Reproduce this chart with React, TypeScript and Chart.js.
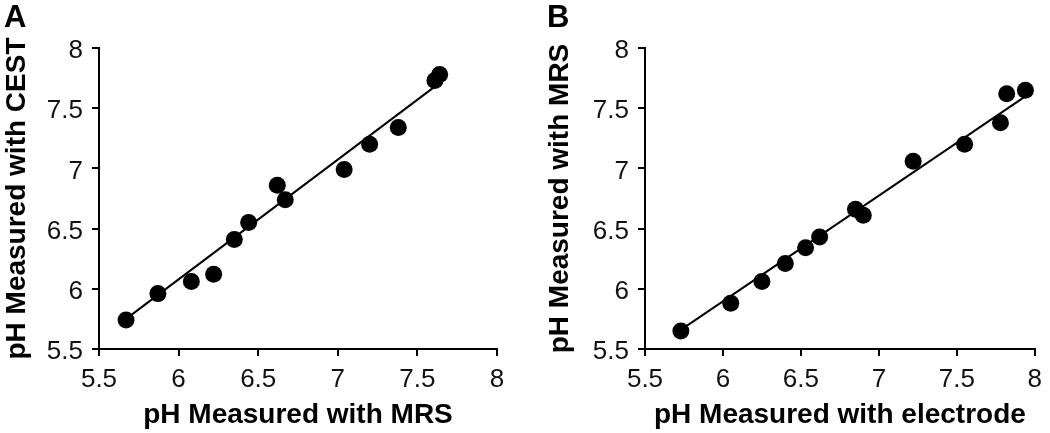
import React, { useEffect, useRef } from "react";
import { Chart, registerables } from "chart.js";

Chart.register(...registerables);

// Panel A: pH by MRS (x) vs pH by CEST (y)
const mrsA = [5.67, 5.87, 6.08, 6.22, 6.35, 6.44, 6.62, 6.67, 7.04, 7.2, 7.38, 7.61, 7.64];
const cestA = [5.74, 5.96, 6.06, 6.12, 6.41, 6.55, 6.86, 6.74, 6.99, 7.2, 7.34, 7.73, 7.78];
const fitAX = [5.67, 7.63];
const fitAY = [5.75, 7.7];

// Panel B: pH by electrode (x) vs pH by MRS (y)
const electrodeB = [5.73, 6.05, 6.25, 6.4, 6.53, 6.62, 6.85, 6.9, 7.22, 7.55, 7.78, 7.82, 7.94];
const mrsB = [5.65, 5.88, 6.06, 6.21, 6.34, 6.43, 6.66, 6.61, 7.06, 7.2, 7.38, 7.62, 7.65];
const fitBX = [5.72, 7.93];
const fitBY = [5.65, 7.59];

const axisTicks = [5.5, 6, 6.5, 7, 7.5, 8];
const axisTickLabels = ["5.5", "6", "6.5", "7", "7.5", "8"];

const FONT = '"Liberation Sans", Arial, sans-serif';

type PanelProps = {
  letter: string;
  xs: number[];
  ys: number[];
  fx: number[];
  fy: number[];
  xTitle: string;
  yTitle: string;
  yAxisWidth: number;
  rightPad: number;
  yTitlePad: number;
  letterX: number;
  left: number;
};

function Panel(p: PanelProps) {
  const ref = useRef<HTMLCanvasElement | null>(null);
  useEffect(() => {
    if (!ref.current) return;
    const letterPlugin = {
      id: "panelLetter",
      afterDraw(chart: any) {
        const ctx = chart.ctx;
        ctx.save();
        ctx.fillStyle = "#000";
        ctx.font = `bold 31px ${FONT}`;
        ctx.textAlign = "left";
        ctx.textBaseline = "alphabetic";
        ctx.fillText(p.letter, p.letterX, 27);
        ctx.restore();
      },
    };
    const commonGrid = {
      display: true,
      drawOnChartArea: false,
      drawTicks: true,
      tickLength: 7,
      tickWidth: 2,
      tickColor: "#000",
      color: "#000",
      lineWidth: 2,
    };
    const tickLabel = (v: any) => {
      const i = axisTicks.indexOf(Number(v));
      return i >= 0 ? axisTickLabels[i] : String(v);
    };
    const chart = new Chart(ref.current, {
      type: "scatter",
      data: {
        datasets: [
          {
            type: "scatter",
            data: p.xs.map((x, i) => ({ x, y: p.ys[i] })),
            backgroundColor: "#000",
            borderColor: "#000",
            borderWidth: 0,
            pointRadius: 8.5,
            order: 0,
          },
          {
            type: "line",
            data: p.fx.map((x, i) => ({ x, y: p.fy[i] })),
            borderColor: "#000",
            borderWidth: 2,
            pointRadius: 0,
            fill: false,
            showLine: true,
            order: 1,
          } as any,
        ],
      },
      options: {
        animation: false,
        responsive: false,
        devicePixelRatio: 1,
        layout: { padding: { left: 0, top: 48, right: p.rightPad, bottom: 0 } },
        plugins: { legend: { display: false }, tooltip: { enabled: false } },
        scales: {
          x: {
            type: "linear",
            min: 5.5,
            max: 8,
            afterBuildTicks: (s: any) => {
              s.ticks = axisTicks.map((v) => ({ value: v }));
            },
            afterFit: (s: any) => {
              s.height = 84;
            },
            grid: commonGrid,
            border: { display: true, color: "#000", width: 2 },
            ticks: {
              color: "#111",
              font: { family: FONT, size: 26 },
              padding: 8,
              maxRotation: 0,
              autoSkip: false,
              callback: tickLabel,
            },
            title: {
              display: true,
              text: p.xTitle,
              color: "#000",
              font: { family: FONT, size: 28, weight: "bold" },
              padding: { top: 0, bottom: 1 },
            },
          },
          y: {
            type: "linear",
            min: 5.5,
            max: 8,
            afterBuildTicks: (s: any) => {
              s.ticks = axisTicks.map((v) => ({ value: v }));
            },
            afterFit: (s: any) => {
              s.width = p.yAxisWidth;
            },
            grid: commonGrid,
            border: { display: true, color: "#000", width: 2 },
            ticks: {
              color: "#111",
              font: { family: FONT, size: 26 },
              padding: 9,
              labelOffset: 3,
              autoSkip: false,
              callback: tickLabel,
            },
            title: {
              display: true,
              text: p.yTitle,
              color: "#000",
              font: { family: FONT, size: 28, weight: "bold" },
              padding: { top: p.yTitlePad, bottom: 0 },
            },
          },
        },
      },
      plugins: [letterPlugin],
    } as any);
    return () => chart.destroy();
  }, []);
  return (
    <div style={{ position: "absolute", left: p.left, top: 0, width: 525, height: 433 }}>
      <canvas ref={ref} width={525} height={433} style={{ width: 525, height: 433, display: "block" }} />
    </div>
  );
}

export default function App() {
  return (
    <div style={{ position: "fixed", left: 0, top: 0, width: 1050, height: 433, background: "#fff" }}>
      <Panel
        letter="A"
        xs={mrsA}
        ys={cestA}
        fx={fitAX}
        fy={fitAY}
        xTitle="pH Measured with MRS"
        yTitle="pH Measured with CEST"
        yAxisWidth={99}
        rightPad={28}
        yTitlePad={0}
        letterX={4}
        left={0}
      />
      <Panel
        letter="B"
        xs={electrodeB}
        ys={mrsB}
        fx={fitBX}
        fy={fitBY}
        xTitle="pH Measured with electrode"
        yTitle="pH Measured with MRS"
        yAxisWidth={120}
        rightPad={12}
        yTitlePad={18}
        letterX={22}
        left={525}
      />
    </div>
  );
}
